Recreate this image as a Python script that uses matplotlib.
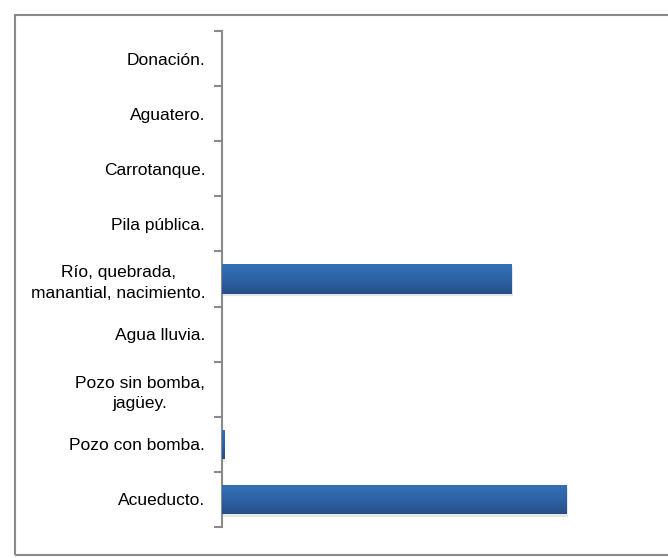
import matplotlib.pyplot as plt
import numpy as np
from matplotlib.patches import Rectangle
from matplotlib.colors import LinearSegmentedColormap

# Categories bottom to top, values in %
categorias = ['Acueducto.', 'Pozo con bomba.', 'Pozo sin bomba,\njagüey.', 'Agua lluvia.',
              'Río, quebrada,\nmanantial, nacimiento.', 'Pila pública.', 'Carrotanque.',
              'Aguatero.', 'Donación.']
valores = [49.5, 0.3, 0.0, 0.0, 41.6, 0.0, 0.0, 0.0, 0.0]

plt.rcParams['font.family'] = ['Liberation Sans', 'DejaVu Sans']

fig = plt.figure(figsize=(6.68, 5.58), dpi=100)
ax = fig.add_axes([222/668, 1-527/558, 418/668, 496/558])

y = np.arange(len(categorias))
bars = ax.barh(y, valores, height=0.53, color='#2F64A8', edgecolor='none', zorder=3)

# shadow + vertical gradient on each bar (lighter on top)
grad = np.linspace(0, 1, 64).reshape(-1, 1)
cmap = LinearSegmentedColormap.from_list('g', ['#3470B6', '#2E63A6', '#264F86'])
for b in bars:
    w = b.get_width()
    if w <= 0:
        continue
    y0, h = b.get_y(), b.get_height()
    ax.add_patch(Rectangle((0.2, y0 - 0.05), w, h, color='#d6d6d6', alpha=0.6, zorder=2, lw=0))
    im = ax.imshow(grad, extent=(0, w, y0, y0 + h), aspect='auto', cmap=cmap,
                   origin='upper', zorder=4)
    im.set_clip_path(b)

ax.set_xlim(0, 60)
ax.set_ylim(-0.5, len(categorias) - 0.5)
ax.set_yticks(y)
ax.set_yticklabels(categorias, fontsize=12.5, ha='right', multialignment='center',
                   linespacing=1.45)
ax.tick_params(axis='y', which='major', length=0, pad=12)
ax.set_yticks(np.arange(-0.5, len(categorias)), minor=True)
ax.tick_params(axis='y', which='minor', length=6, width=1.5, color='#8a8a8a', direction='out')
ax.set_xticks([])
for s in ['top', 'right', 'bottom']:
    ax.spines[s].set_visible(False)
ax.spines['left'].set_color('#8a8a8a')
ax.spines['left'].set_linewidth(1.5)

# outer chart border
fig.patches.append(Rectangle((15/668, 3/558), 1.0, 1 - 18/558, transform=fig.transFigure,
                             fill=False, edgecolor='#8a8a8a', lw=1.5))

plt.savefig('out.png', dpi=100)
